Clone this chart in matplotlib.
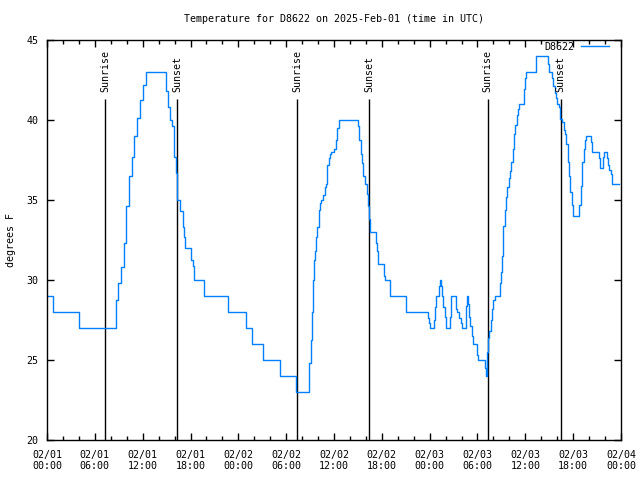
import matplotlib
matplotlib.use("Agg")
import matplotlib.pyplot as plt
from matplotlib.ticker import MultipleLocator

# ---- data (hours since 2025-02-01 00:00 UTC, degrees F) ----
hours = [0.0, 0.66, 0.9, 3.9, 4.1, 8.45, 8.77, 9.1, 9.4, 9.8, 10.1, 10.4, 10.8, 11.1, 11.4,
         11.9, 12.2, 12.6, 14.75, 15.0, 15.25, 15.5, 15.75, 16.0, 16.25, 16.3, 16.4, 16.9,
         17.1, 17.3, 17.4, 18.0, 18.2, 18.35, 18.55, 19.6, 19.7, 22.5, 22.85, 24.8, 25.0,
         25.6, 25.8, 26.9, 27.2, 29.1, 29.3, 31.1, 31.3, 32.75, 33.0, 33.2, 33.3, 33.4,
         33.55, 33.7, 33.8, 34.0, 34.2, 34.35, 34.5, 34.75, 34.9, 35.1, 35.25, 35.4, 35.6,
         35.75, 36.2, 36.3, 36.5, 36.7, 38.85, 39.1, 39.25, 39.4, 39.6, 39.75, 40.0, 40.2,
         40.35, 40.5, 40.65, 41.15, 41.3, 41.5, 41.65, 42.15, 42.3, 42.5, 43.0, 43.15, 44.9,
         45.1, 47.7, 47.9, 48.0, 48.15, 48.4, 48.6, 48.75, 48.9, 49.1, 49.25, 49.4, 49.5,
         49.65, 49.8, 50.0, 50.15, 50.4, 50.6, 50.75, 51.2, 51.35, 51.5, 51.6, 51.85, 52.0,
         52.15, 52.4, 52.6, 52.65, 52.85, 53.0, 53.2, 53.35, 53.5, 53.9, 54.1, 54.15, 54.9,
         55.0, 55.2, 55.3, 55.4, 55.6, 55.75, 55.9, 56.1, 56.25, 56.7, 56.85, 57.0, 57.2,
         57.3, 57.5, 57.65, 57.8, 58.0, 58.15, 58.3, 58.5, 58.65, 58.8, 59.0, 59.15, 59.3,
         59.7, 59.9, 60.0, 60.2, 61.2, 61.4, 62.7, 62.9, 62.95, 63.3, 63.45, 63.6, 63.8,
         63.95, 64.1, 64.3, 64.45, 64.7, 64.9, 65.0, 65.2, 65.4, 65.5, 65.7, 65.9, 66.05,
         66.7, 66.85, 67.0, 67.2, 67.4, 67.55, 67.7, 68.1, 68.3, 68.45, 69.1, 69.3, 69.45,
         69.7, 69.85, 69.95, 70.1, 70.3, 70.45, 70.6, 70.8, 71.0, 71.7]
temps = [29, 29, 28, 28, 27, 27, 28.75, 29.8, 30.8, 32.3, 34.6, 36.5, 37.7, 39.0, 40.1,
         41.25, 42.2, 43, 43, 41.8, 40.8, 40.0, 39.6, 37.7, 36.7, 35.6, 35.0, 34.3,
         33.3, 32.7, 32, 32, 31.25, 30.9, 30, 30, 29, 29, 28, 28, 27,
         27, 26, 26, 25, 25, 24, 24, 23, 23, 24.8, 26.25, 28, 30,
         31.25, 31.8, 32.7, 33.3, 34.4, 34.8, 35, 35.3, 35.8, 36, 37.2, 37.6, 37.9,
         38, 38.2, 38.75, 39.5, 40, 40, 39.6, 38.75, 37.9, 37.3, 36.5, 36, 35.4,
         34.6, 33.8, 33, 33, 32.3, 31.8, 31, 31, 30.25, 30, 30, 29, 29,
         28, 28, 27.6, 27.3, 27, 27, 27.5, 28.3, 29, 29, 29.6, 30, 29.6,
         29, 28.3, 27.7, 27, 27, 27.7, 29, 29, 28.2, 28, 28, 27.6, 27.3,
         27, 27, 28.4, 29, 28.5, 27.7, 27.1, 26.5, 26, 26, 25.3, 25, 25,
         24.5, 24.0, 25.5, 26.35, 26.8, 27.5, 28.2, 28.75, 29, 29, 29.8, 30.5, 31.5,
         33.4, 34.4, 35.2, 35.8, 36.35, 36.8, 37.4, 38.2, 39.1, 39.7, 40.3, 40.7, 41,
         41, 41.95, 42.6, 43, 43, 44, 44, 43.5, 43, 43, 42.6, 42.1, 41.7,
         41.4, 41, 40.8, 40.06, 39.9, 39.4, 39.1, 38.5, 37.4, 36.5, 35.5, 34.7, 34,
         34, 34.7, 35.9, 37.4, 38.2, 38.75, 39, 39, 38.6, 38, 38, 37.6, 37,
         37, 37.7, 38, 38, 37.6, 37.2, 36.9, 36.6, 36, 36]

sun_times = [7.31, 16.33, 31.37, 40.39, 55.30, 64.45]
sun_labels = ["Sunrise", "Sunset", "Sunrise", "Sunset", "Sunrise", "Sunset"]

xtick_hours = [0, 6, 12, 18, 24, 30, 36, 42, 48, 54, 60, 66, 72]
xtick_labels = ["02/01\n00:00", "02/01\n06:00", "02/01\n12:00", "02/01\n18:00",
                "02/02\n00:00", "02/02\n06:00", "02/02\n12:00", "02/02\n18:00",
                "02/03\n00:00", "02/03\n06:00", "02/03\n12:00", "02/03\n18:00",
                "02/04\n00:00"]
yticks = [20, 25, 30, 35, 40, 45]

series_name = "D8622"
title = "Temperature for D8622 on 2025-Feb-01 (time in UTC)"
ylabel = "degrees F"

# ---- style ----
FONT = "DejaVu Sans Mono"
FS = 7.2
plt.rcParams["font.family"] = FONT
plt.rcParams["font.size"] = FS

fig = plt.figure(figsize=(6.4, 4.8), dpi=100)
ax = fig.add_axes([47/640, 40/480, 574/640, 400/480])

ax.vlines(sun_times, 20, 41.3, colors="black", linewidth=1.0, zorder=1)
for t, lab in zip(sun_times, sun_labels):
    ax.text(t, 41.75, lab, rotation=90, ha="center", va="bottom",
            fontsize=FS, family=FONT, zorder=3)

ax.plot(hours, temps, color="#0080ff", linewidth=1.0, label=series_name,
        drawstyle="steps-mid", zorder=2)

ax.set_xlim(0, 72)
ax.set_ylim(20, 45)
ax.set_xticks(xtick_hours)
ax.set_xticklabels(xtick_labels, linespacing=1.15)
ax.xaxis.set_minor_locator(MultipleLocator(2))
ax.set_yticks(yticks)
ax.tick_params(axis="both", which="major", direction="in", length=5, width=1,
               top=True, right=True, labelsize=FS, color="black")
ax.tick_params(axis="x", which="minor", direction="in", length=3, width=1,
               top=True, bottom=True)
ax.tick_params(axis="x", which="major", pad=7)
ax.tick_params(axis="y", which="major", pad=6)
for s in ax.spines.values():
    s.set_linewidth(1.0)
    s.set_color("black")

leg = ax.legend(loc="upper right", bbox_to_anchor=(0.979, 0.995), frameon=False,
                markerfirst=False, handlelength=2.8, handletextpad=0.7,
                borderaxespad=0, borderpad=0, fontsize=FS)

fig.text(334/640, 1 - 19/480, title, ha="center", va="center", fontsize=FS, family=FONT)
fig.text(11/640, 0.5, ylabel, rotation=90, ha="center", va="center", fontsize=FS, family=FONT)

fig.savefig("out.png", dpi=100)
